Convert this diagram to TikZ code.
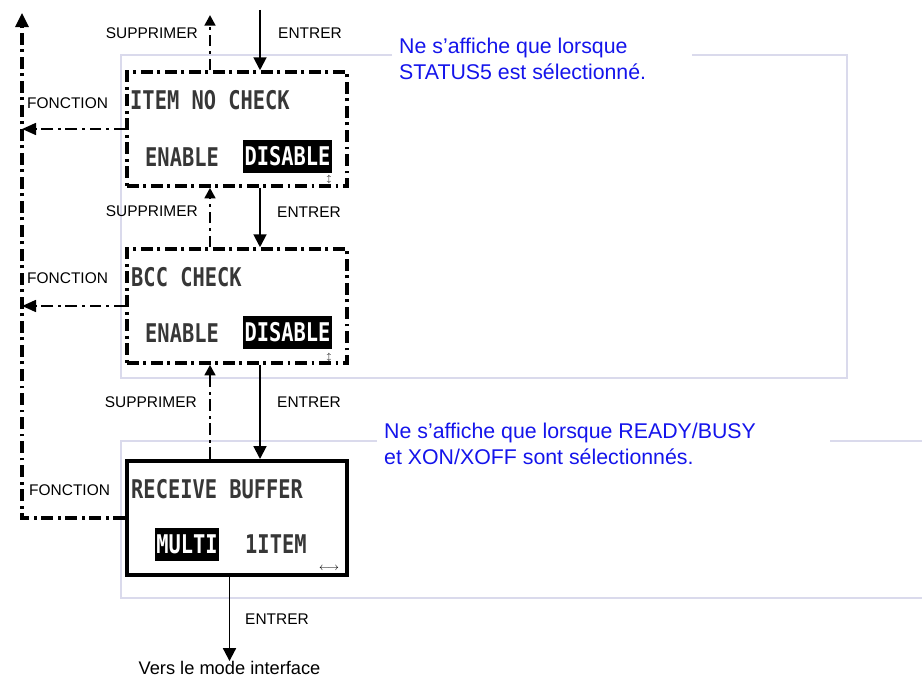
\documentclass[tikz,border=0pt]{standalone}
\usepackage{fontspec}
\setmainfont{Liberation Sans}
\newfontfamily\lcdfont[FakeStretch=0.79]{DejaVu Sans Mono}
\usetikzlibrary{arrows.meta,positioning}
\definecolor{frameline}{RGB}{218,218,236}
\definecolor{notice}{RGB}{20,20,235}
\definecolor{lcdgray}{RGB}{55,55,55}

\begin{document}
\begin{tikzpicture}[x=0.03cm,y=-0.03cm,
dashdot/.style={dash pattern=on 10pt off 4pt on 2.5pt off 4pt},
panel/.style={draw,rectangle,minimum width=6.6cm,minimum height=3.42cm,line width=3pt,inner sep=0pt},
lcd/.style={inner sep=0pt,text=lcdgray,font=\lcdfont\bfseries\fontsize{22}{24}\selectfont},
inv/.style={lcd,fill=black,text=white,inner xsep=1pt,minimum height=0.99cm},
lbl/.style={inner sep=0pt,font=\fontsize{13.2}{15}\selectfont},
note/.style={inner sep=0pt,text=notice,align=left,font=\fontsize{18.2}{22.2}\selectfont},
frame/.style={draw=frameline,line width=1.5pt},
entrer/.style={line width=1.7pt,-{Triangle[width=11pt,length=11pt]}},
suppr/.style={dashdot,line width=2.5pt,-{Triangle[width=9pt,length=9pt]}},
fonction/.style={dashdot,line width=2.2pt}]
\useasboundingbox (0,0) rectangle (922,681);
% frames
\draw[frame] (392,55) -- (121,55) -- (121,378) -- (847,378) -- (847,55) -- (692,55);
\draw[frame] (377,441) -- (121,441) -- (121,598) -- (922,598);
\draw[frame] (830,441) -- (922,441);
\node[note,anchor=north west] (Q1) at (399,38) {Ne s’affiche que lorsque\\STATUS5 est sélectionné.};
\node[note,anchor=north west] (Q2) at (384,423) {Ne s’affiche que lorsque READY/BUSY\\et XON/XOFF sont sélectionnés.};
% panels
\node[panel,dashdot] (P1) at (237,129) {};
\node[panel,dashdot] (P2) at (237,306) {};
\node[panel,line width=3.4pt] (P3) at (237,518) {};
\node[lcd,anchor=west] (T1) at (130,100) {ITEM NO CHECK};
\node[lcd,anchor=west] (E1) at (145,157) {ENABLE};
\node[inv] (D1) at (287.5,156.5) {DISABLE};
\node[inner sep=0pt,font=\scriptsize] (U1) at (329,179) {$\updownarrow$};
\node[lcd,anchor=west] (T2) at (131,277) {BCC CHECK};
\node[lcd,anchor=west] (E2) at (145,333) {ENABLE};
\node[inv] (D2) at (287.5,332.5) {DISABLE};
\node[inner sep=0pt,font=\scriptsize] (U2) at (329,357) {$\updownarrow$};
\node[lcd,anchor=west] (T3) at (131,489) {RECEIVE BUFFER};
\node[inv] (M3) at (187,544) {MULTI};
\node[lcd,anchor=west] (I3) at (245,544) {1ITEM};
\node[inner sep=0pt,font=\small] (U3) at (329,569) {$\longleftrightarrow$};
% labels
\node[lbl,anchor=east] (S1) at (198,33) {SUPPRIMER};
\node[lbl,anchor=west] (N1) at (278,33) {ENTRER};
\node[lbl,anchor=east] (S2) at (198,211) {SUPPRIMER};
\node[lbl,anchor=west] (N2) at (277,212) {ENTRER};
\node[lbl,anchor=east] (S3) at (197,402) {SUPPRIMER};
\node[lbl,anchor=west] (N3) at (277,402) {ENTRER};
\node[lbl,anchor=west] (N4) at (245,619) {ENTRER};
\node[lbl,anchor=west] (F1) at (27,103) {FONCTION};
\node[lbl,anchor=west] (F2) at (27,278) {FONCTION};
\node[lbl,anchor=west] (F3) at (29,490) {FONCTION};
\node[inner sep=0pt,font=\fontsize{15.6}{17}\selectfont] (V) at (229.5,668) {Vers le mode interface};
\coordinate (e0) at (260,10);
\coordinate (s0) at (210,15);
\coordinate (f0) at (22,13);
% ENTRER
\draw[entrer] (e0) -- (P1.north -| e0);
\draw[entrer] (P1.south -| e0) -- (P2.north -| e0);
\draw[entrer] (P2.south -| e0) -- (P3.north -| e0);
\draw[entrer] (P3.south -| V) -- (V.north);
% SUPPRIMER
\draw[suppr] (P1.north -| s0) -- (s0);
\draw[suppr] (P2.north -| s0) -- (P1.south -| s0);
\draw[suppr] (P3.north -| s0) -- (P2.south -| s0);
% FONCTION
\draw[fonction,line width=2.6pt,-{Triangle[width=11pt,length=12pt]}] (P3.west) -- (P3.west -| f0) -- (f0);
\draw[fonction,-{Triangle[width=10pt,length=12pt]}] (P1.west) -- (P1.west -| f0);
\draw[fonction,-{Triangle[width=10pt,length=12pt]}] (P2.west) -- (P2.west -| f0);
\end{tikzpicture}
\end{document}
